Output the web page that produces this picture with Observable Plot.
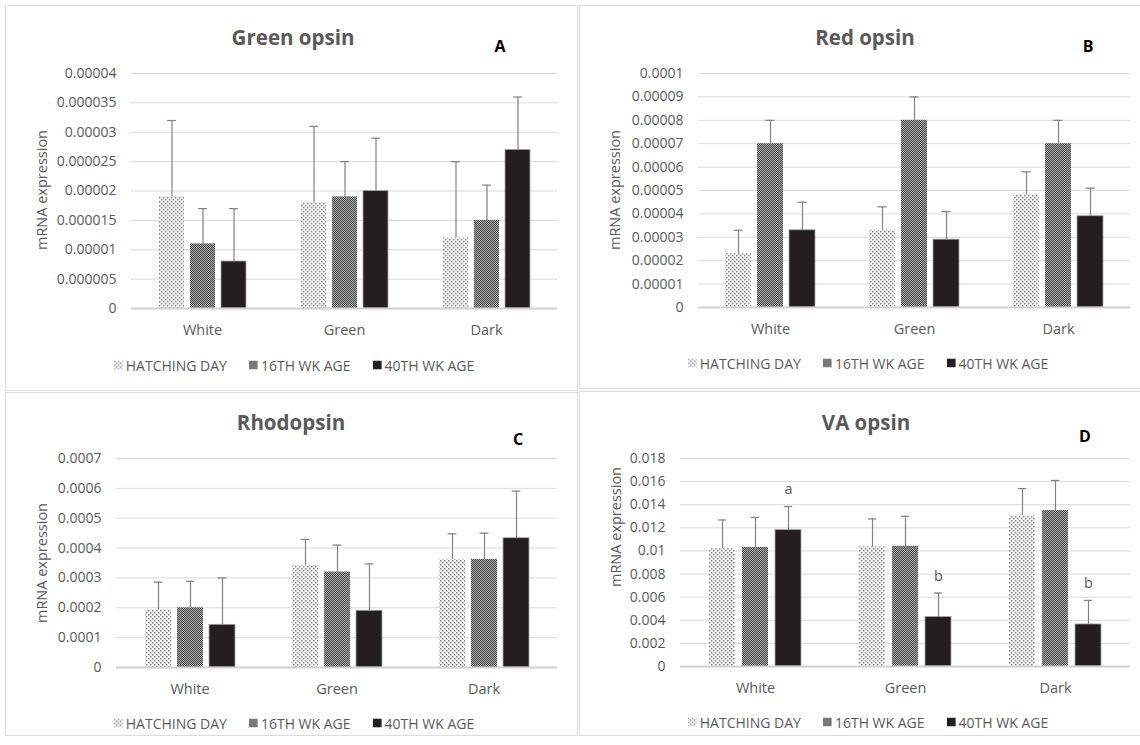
<!DOCTYPE html>
<html><head><meta charset="utf-8">
<script src="https://cdn.jsdelivr.net/npm/d3@7"></script>
<script src="https://cdn.jsdelivr.net/npm/@observablehq/plot@0.6"></script>
<style>
body{margin:0;background:#fff;width:1140px;height:745px;overflow:hidden;position:relative;font-family:"Open Sans",sans-serif;}
.box{position:absolute;border:1.5px solid #dcdcdc;box-sizing:border-box;}
.title{position:absolute;transform:translate(-50%,-50%);font-weight:700;font-size:20.5px;color:#595959;white-space:nowrap;}
.letter{position:absolute;transform:translate(-50%,-50%);font-weight:700;font-size:16px;color:#000;}
.ylab{position:absolute;transform:translate(-50%,-50%) rotate(-90deg);font-size:14.5px;color:#595959;white-space:nowrap;}
.legend{position:absolute;transform:translate(-50%,-50%);display:flex;align-items:center;font-size:14px;color:#595959;white-space:nowrap;}
.legend .item{display:flex;align-items:center;margin:0 11px;}
.legend svg{margin-right:3px;}
.plot{position:absolute;}
</style></head><body>
<svg width="0" height="0" style="position:absolute;left:0;top:0">
<defs>
<pattern id="dots" width="4" height="4" patternUnits="userSpaceOnUse">
<rect width="4" height="4" fill="#fff"/>
<rect x="0" y="0" width="1.5" height="1.5" fill="#7a7a7a"/>
<rect x="2" y="2" width="1.5" height="1.5" fill="#7a7a7a"/>
</pattern>
<pattern id="checker" width="2" height="2" patternUnits="userSpaceOnUse">
<rect width="2" height="2" fill="#b0b0b0"/>
<rect x="0" y="0" width="1" height="1" fill="#444444"/>
<rect x="1" y="1" width="1" height="1" fill="#444444"/>
</pattern>
</defs></svg>
<script>
// ---- data ----
const groups = ["White", "Green", "Dark"];
const series = ["HATCHING DAY", "16TH WK AGE", "40TH WK AGE"];

// order: White(H,16,40), Green(H,16,40), Dark(H,16,40)
const greenOpsinMean = [0.000019, 0.000011, 0.000008, 0.000018, 0.000019, 0.00002, 0.000012, 0.000015, 0.000027];
const greenOpsinUpper = [0.000032, 0.000017, 0.000017, 0.000031, 0.000025, 0.000029, 0.000025, 0.000021, 0.000036];
const greenOpsinTicks = [0, 0.000005, 0.00001, 0.000015, 0.00002, 0.000025, 0.00003, 0.000035, 0.00004];

const redOpsinMean = [0.000023, 0.00007, 0.000033, 0.000033, 0.00008, 0.000029, 0.000048, 0.00007, 0.000039];
const redOpsinUpper = [0.000033, 0.00008, 0.000045, 0.000043, 0.00009, 0.000041, 0.000058, 0.00008, 0.000051];
const redOpsinTicks = [0, 0.00001, 0.00002, 0.00003, 0.00004, 0.00005, 0.00006, 0.00007, 0.00008, 0.00009, 0.0001];

const rhodopsinMean = [0.000193, 0.0002, 0.000143, 0.000342, 0.00032, 0.00019, 0.000362, 0.000362, 0.000433];
const rhodopsinUpper = [0.000286, 0.000289, 0.0003, 0.000429, 0.00041, 0.000347, 0.000448, 0.00045, 0.000591];
const rhodopsinTicks = [0, 0.0001, 0.0002, 0.0003, 0.0004, 0.0005, 0.0006, 0.0007];

const vaOpsinMean = [0.0102, 0.0103, 0.0118, 0.01035, 0.0104, 0.00428, 0.01303, 0.0135, 0.00364];
const vaOpsinUpper = [0.01268, 0.0129, 0.01384, 0.01277, 0.013, 0.00636, 0.0154, 0.0161, 0.00572];
const vaOpsinTicks = [0, 0.002, 0.004, 0.006, 0.008, 0.01, 0.012, 0.014, 0.016, 0.018];
const vaOpsinSig = ["", "", "a", "", "", "b", "", "", "b"];

// ---- layout ----
const fmt = d => String(+d.toPrecision(6));

const panels = [
  {title: "Green opsin", letter: "A", mean: greenOpsinMean, upper: greenOpsinUpper, ticks: greenOpsinTicks,
   box: [5, 5, 578, 391], L: 131, R: 557, T: 73, B: 308, svgTop: 55, svgH: 290,
   titleXY: [293, 37], letterXY: [500, 46], ylabXY: [41, 190], legendXY: [294, 365]},
  {title: "Red opsin", letter: "B", mean: redOpsinMean, upper: redOpsinUpper, ticks: redOpsinTicks,
   box: [579, 5, 1150, 389], L: 697, R: 1130, T: 73, B: 307, svgTop: 55, svgH: 290,
   titleXY: [865, 37], letterXY: [1088, 46], ylabXY: [614, 190], legendXY: [868, 363]},
  {title: "Rhodopsin", letter: "C", mean: rhodopsinMean, upper: rhodopsinUpper, ticks: rhodopsinTicks,
   box: [5, 392, 578, 736], L: 115, R: 558, T: 458, B: 667, svgTop: 440, svgH: 265,
   titleXY: [291, 422], letterXY: [518, 439], ylabXY: [41, 563], legendXY: [294, 723]},
  {title: "VA opsin", letter: "D", mean: vaOpsinMean, upper: vaOpsinUpper, ticks: vaOpsinTicks, sig: vaOpsinSig,
   box: [579, 391, 1150, 736], L: 680, R: 1130, T: 458, B: 666, svgTop: 440, svgH: 265,
   titleXY: [866, 422], letterXY: [1085, 436], ylabXY: [615, 527], legendXY: [868, 722]}
];

const fills = ["url(#dots)", "url(#checker)", "#231f20"];

function addDiv(cls, x, y, html) {
  const d = document.createElement("div");
  d.className = cls;
  d.style.left = x + "px";
  d.style.top = y + "px";
  d.innerHTML = html;
  document.body.appendChild(d);
  return d;
}

for (const p of panels) {
  const [bx0, by0, bx1, by1] = p.box;
  const box = addDiv("box", bx0, by0, "");
  box.style.width = (bx1 - bx0) + "px";
  box.style.height = (by1 - by0) + "px";

  const rows = [];
  groups.forEach((g, i) => series.forEach((s, j) => rows.push({
    group: g, series: s, value: p.mean[i * 3 + j], upper: p.upper[i * 3 + j], sig: p.sig ? p.sig[i * 3 + j] : ""
  })));

  const svgLeft = bx0, svgW = Math.min(bx1, 1140) - bx0;
  const mL = p.L - svgLeft, mR = svgLeft + svgW - p.R, mT = p.T - p.svgTop, mB = p.svgTop + p.svgH - p.B;
  const facetW = (p.R - p.L) / 3;
  const pi = 0.2, po = 0.85;
  const step = facetW / (3 - pi + 2 * po), bw = step * (1 - pi);
  const capInset = (bw - 9) / 2;
  const ymax = p.ticks[p.ticks.length - 1];

  const chart = Plot.plot({
    width: svgW, height: p.svgH,
    marginLeft: mL, marginRight: mR, marginTop: mT, marginBottom: mB,
    style: {fontFamily: "'Open Sans', sans-serif", fontSize: "14px", color: "#595959", background: "transparent", overflow: "visible"},
    fx: {domain: groups, padding: 0, axis: null, label: null},
    x: {domain: series, paddingInner: pi, paddingOuter: po, axis: null, label: null},
    y: {domain: [0, ymax], axis: null, label: null},
    color: {type: "ordinal", domain: series, range: fills},
    marks: [
      Plot.gridY(p.ticks, {stroke: "#d9d9d9", strokeOpacity: 1, strokeWidth: 1}),
      Plot.barY(rows.filter(d => d.series !== series[2]), {fx: "group", x: "series", y: "value", fill: "series"}),
      Plot.barY(rows.filter(d => d.series === series[2]), {fx: "group", x: "series", y: "value", fill: "series", stroke: "#a6a6a6", strokeWidth: 0.8}),
      Plot.ruleY([0], {stroke: "#d0d0d0", strokeWidth: 2}),
      Plot.ruleX(rows, {fx: "group", x: "series", y1: "value", y2: "upper", stroke: "#808080", strokeWidth: 1.2}),
      Plot.tickY(rows, {fx: "group", x: "series", y: "upper", stroke: "#808080", strokeWidth: 1.2, insetLeft: capInset, insetRight: capInset}),
      Plot.text(rows.filter(d => d.sig), {fx: "group", x: "series", y: "upper", text: "sig", dy: -17, fill: "#595959", fontSize: 14.5}),
      Plot.axisY(p.ticks, {tickSize: 0, tickPadding: 15, tickFormat: fmt, label: null, fontSize: 14}),
      Plot.axisFx({anchor: "bottom", tickSize: 0, tickPadding: 16, label: null, fontSize: 14.5})
    ]
  });
  chart.classList.add("plot");
  chart.style.left = svgLeft + "px";
  chart.style.top = p.svgTop + "px";
  document.body.appendChild(chart);

  addDiv("title", p.titleXY[0], p.titleXY[1], p.title);
  addDiv("letter", p.letterXY[0], p.letterXY[1], p.letter);
  addDiv("ylab", p.ylabXY[0], p.ylabXY[1], "mRNA expression");
  const items = series.map((s, k) =>
    `<span class="item"><svg width="9" height="9"><rect width="9" height="9" fill="${fills[k]}"/></svg>${s}</span>`).join("");
  addDiv("legend", p.legendXY[0], p.legendXY[1], items);
}
</script>
</body></html>
